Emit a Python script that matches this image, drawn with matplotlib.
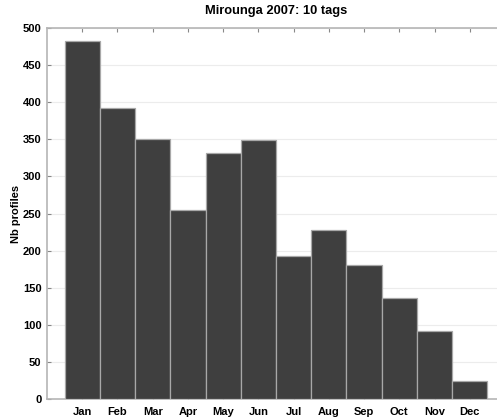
import matplotlib
matplotlib.use("Agg")
import matplotlib.pyplot as plt

months = ["Jan", "Feb", "Mar", "Apr", "May", "Jun", "Jul", "Aug", "Sep", "Oct", "Nov", "Dec"]
profiles = [483, 392, 351, 255, 332, 349, 193, 228, 181, 136, 91, 24]
yticks = [0, 50, 100, 150, 200, 250, 300, 350, 400, 450, 500]
title = "Mirounga 2007: 10 tags"
ylabel = "Nb profiles"

plt.rcParams["font.family"] = ["Liberation Sans", "DejaVu Sans"]
plt.rcParams["font.weight"] = "bold"

fig = plt.figure(figsize=(4.97, 4.18), dpi=100)
ax = fig.add_axes([47 / 497, 19 / 418, 458 / 497, 371 / 418])

x = list(range(1, len(months) + 1))
ax.bar(x, profiles, width=1.0, color="#3f3f3f", edgecolor="#a8a8a8", linewidth=0.9, zorder=3)

ax.set_xlim(0, 13)
ax.set_ylim(0, 500)
ax.set_yticks(yticks)
ax.set_xticks(x)
ax.set_xticklabels(months)
ax.grid(axis="y", color="#ececec", linewidth=0.8, zorder=0)
ax.tick_params(direction="in", length=3, color="#888888", labelsize=8, top=True, right=False, pad=6)
ax.tick_params(axis="y", pad=4)
for lab in ax.get_xticklabels() + ax.get_yticklabels():
    lab.set_fontweight("bold")
for s in ["left", "top", "bottom"]:
    ax.spines[s].set_color("#b5b5b5")
    ax.spines[s].set_linewidth(1.2)
ax.spines["right"].set_visible(False)

ax.set_ylabel(ylabel, fontsize=8, fontweight="bold", labelpad=1)
ax.set_title(title, fontsize=9.3, fontweight="bold", pad=10)

fig.savefig("out.png", dpi=100)
